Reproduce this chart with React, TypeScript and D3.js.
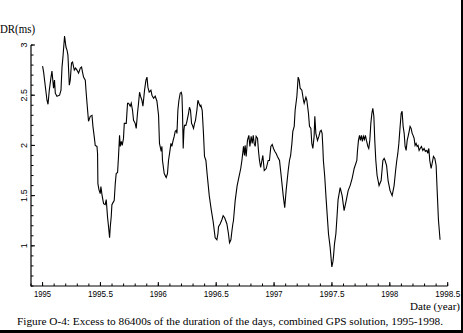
import React from "react";
import * as d3 from "d3";

const years: number[] = [
  1995.000, 1995.009, 1995.038, 1995.047, 1995.058, 1995.073, 1995.081, 1995.095, 1995.103, 1995.110,
  1995.124, 1995.147, 1995.159, 1995.168, 1995.176, 1995.190, 1995.202, 1995.211, 1995.219, 1995.231,
  1995.239, 1995.250, 1995.259, 1995.274, 1995.285, 1995.297, 1995.311, 1995.326, 1995.337, 1995.345,
  1995.354, 1995.369, 1995.377, 1995.389, 1995.397, 1995.412, 1995.427, 1995.435, 1995.446, 1995.455,
  1995.470, 1995.475, 1995.478, 1995.487, 1995.498, 1995.504, 1995.513, 1995.527, 1995.541, 1995.550,
  1995.561, 1995.570, 1995.579, 1995.585, 1995.593, 1995.599, 1995.613, 1995.619, 1995.628, 1995.636,
  1995.648, 1995.656, 1995.665, 1995.671, 1995.680, 1995.688, 1995.699, 1995.706, 1995.723, 1995.734,
  1995.743, 1995.757, 1995.766, 1995.777, 1995.786, 1995.800, 1995.809, 1995.820, 1995.829, 1995.838,
  1995.846, 1995.858, 1995.867, 1995.881, 1995.893, 1995.902, 1995.910, 1995.921, 1995.936, 1995.945,
  1995.959, 1995.973, 1995.988, 1996.002, 1996.010, 1996.025, 1996.031, 1996.036, 1996.051, 1996.068,
  1996.079, 1996.088, 1996.097, 1996.109, 1996.117, 1996.126, 1996.137, 1996.146, 1996.155, 1996.161,
  1996.169, 1996.178, 1996.189, 1996.198, 1996.204, 1996.209, 1996.215, 1996.221, 1996.226, 1996.238,
  1996.247, 1996.261, 1996.269, 1996.278, 1996.287, 1996.295, 1996.304, 1996.313, 1996.321, 1996.333,
  1996.342, 1996.351, 1996.362, 1996.368, 1996.379, 1996.390, 1996.399, 1996.411, 1996.422, 1996.440,
  1996.457, 1996.474, 1996.491, 1996.506, 1996.515, 1996.520, 1996.535, 1996.549, 1996.560, 1996.573,
  1996.592, 1996.606, 1996.615, 1996.627, 1996.636, 1996.644, 1996.649, 1996.664, 1996.681, 1996.699,
  1996.712, 1996.722, 1996.736, 1996.744, 1996.750, 1996.759, 1996.770, 1996.782, 1996.791, 1996.802,
  1996.811, 1996.820, 1996.828, 1996.837, 1996.845, 1996.857, 1996.865, 1996.874, 1996.884, 1996.903,
  1996.915, 1996.932, 1996.949, 1996.960, 1996.972, 1996.984, 1996.995, 1997.007, 1997.018, 1997.029,
  1997.047, 1997.061, 1997.079, 1997.092, 1997.104, 1997.122, 1997.133, 1997.143, 1997.154, 1997.162,
  1997.174, 1997.182, 1997.197, 1997.208, 1997.217, 1997.225, 1997.240, 1997.254, 1997.260, 1997.275,
  1997.283, 1997.297, 1997.306, 1997.318, 1997.326, 1997.335, 1997.346, 1997.352, 1997.361, 1997.375,
  1997.387, 1997.398, 1997.407, 1997.415, 1997.421, 1997.426, 1997.437, 1997.450, 1997.470, 1997.484,
  1997.499, 1997.508, 1997.513, 1997.522, 1997.534, 1997.542, 1997.553, 1997.571, 1997.588, 1997.605,
  1997.623, 1997.640, 1997.657, 1997.674, 1997.692, 1997.715, 1997.720, 1997.729, 1997.738, 1997.746,
  1997.755, 1997.763, 1997.772, 1997.781, 1997.789, 1997.798, 1997.810, 1997.818, 1997.827, 1997.836,
  1997.845, 1997.853, 1997.862, 1997.870, 1997.879, 1997.890, 1997.907, 1997.925, 1997.940, 1997.951,
  1997.959, 1997.972, 1997.985, 1998.002, 1998.020, 1998.037, 1998.050, 1998.060, 1998.069, 1998.078,
  1998.089, 1998.098, 1998.106, 1998.115, 1998.124, 1998.132, 1998.141, 1998.150, 1998.158, 1998.167,
  1998.175, 1998.184, 1998.193, 1998.201, 1998.210, 1998.218, 1998.227, 1998.236, 1998.244, 1998.253,
  1998.262, 1998.273, 1998.285, 1998.296, 1998.307, 1998.320, 1998.328, 1998.337, 1998.345, 1998.357,
  1998.377, 1998.389, 1998.400, 1998.409, 1998.420, 1998.434,
];

const excessMs: number[] = [
  2.79, 2.73, 2.45, 2.41, 2.55, 2.68, 2.74, 2.57, 2.65, 2.52,
  2.49, 2.50, 2.55, 2.78, 2.88, 3.09, 2.98, 2.95, 2.90, 2.60,
  2.65, 2.82, 2.83, 2.75, 2.77, 2.75, 2.72, 2.77, 2.78, 2.73,
  2.68, 2.65, 2.52, 2.35, 2.24, 2.29, 2.30, 2.19, 2.09, 2.00,
  1.99, 1.92, 1.62, 1.56, 1.52, 1.59, 1.51, 1.42, 1.41, 1.46,
  1.29, 1.19, 1.08, 1.19, 1.29, 1.41, 1.44, 1.45, 1.62, 1.72,
  1.73, 1.89, 2.10, 1.99, 2.04, 2.00, 2.07, 2.22, 2.22, 2.42,
  2.42, 2.39, 2.42, 2.35, 2.25, 2.22, 2.17, 2.32, 2.42, 2.53,
  2.49, 2.45, 2.39, 2.55, 2.65, 2.68, 2.58, 2.53, 2.55, 2.50,
  2.47, 2.49, 2.44, 2.30, 2.02, 1.94, 1.99, 1.85, 1.72, 1.68,
  1.72, 1.85, 1.92, 2.02, 1.99, 2.04, 2.09, 2.14, 2.15, 2.12,
  2.35, 2.45, 2.52, 2.53, 2.50, 2.32, 1.97, 2.15, 2.20, 2.20,
  2.24, 2.32, 2.38, 2.35, 2.22, 2.20, 2.17, 2.22, 2.25, 2.35,
  2.45, 2.42, 2.39, 2.40, 2.35, 2.12, 1.89, 1.85, 1.71, 1.50,
  1.36, 1.24, 1.08, 1.06, 1.12, 1.19, 1.22, 1.26, 1.30, 1.28,
  1.22, 1.12, 1.03, 1.06, 1.15, 1.22, 1.25, 1.45, 1.60, 1.70,
  1.77, 1.85, 1.99, 1.90, 2.00, 1.89, 2.05, 2.10, 1.99, 2.09,
  2.02, 2.10, 2.02, 1.99, 2.09, 2.07, 1.95, 1.85, 1.78, 1.90,
  1.75, 1.77, 1.85, 1.85, 1.99, 2.01, 1.97, 1.94, 1.92, 1.89,
  1.85, 1.70, 1.50, 1.38, 1.55, 1.75, 1.85, 1.90, 2.02, 2.14,
  2.19, 2.35, 2.49, 2.68, 2.65, 2.57, 2.55, 2.45, 2.42, 2.48,
  2.45, 2.32, 2.19, 2.17, 2.02, 1.97, 2.09, 2.29, 2.12, 2.05,
  2.09, 2.14, 2.15, 2.12, 1.99, 1.85, 1.70, 1.46, 1.12, 0.99,
  0.79, 0.84, 0.89, 1.02, 1.12, 1.26, 1.46, 1.58, 1.50, 1.35,
  1.45, 1.55, 1.60, 1.67, 1.77, 1.85, 1.94, 2.05, 2.10, 2.05,
  2.10, 2.04, 2.09, 2.06, 2.10, 2.05, 1.99, 1.97, 2.05, 2.22,
  2.32, 2.37, 2.29, 2.05, 1.85, 1.70, 1.60, 1.65, 1.85, 1.87,
  1.85, 1.80, 1.65, 1.55, 1.50, 1.60, 1.75, 1.85, 1.92, 2.02,
  2.19, 2.32, 2.34, 2.19, 2.12, 1.99, 1.95, 2.05, 2.09, 2.14,
  2.19, 2.17, 2.12, 2.10, 2.07, 2.00, 2.02, 1.99, 2.00, 1.95,
  1.97, 1.99, 1.95, 1.97, 1.94, 1.95, 1.92, 1.97, 1.85, 1.77,
  1.89, 1.87, 1.80, 1.55, 1.26, 1.06,
];

const xMajorTicks: number[] = [1995, 1995.5, 1996, 1996.5, 1997, 1997.5, 1998, 1998.5];
const xTickLabels: string[] = ["1995", "1995.5", "1996", "1996.5", "1997", "1997.5", "1998", "1998.5"];
const yMajorTicks: number[] = [1, 1.5, 2, 2.5, 3];
const yTickLabels: string[] = ["1", "1.5", "2", "2.5", "3"];

const W = 463;
const H = 333;

export default function App() {
  const x = d3.scaleLinear().domain([1994.9, 1998.5]).range([31, 447.7]);
  const y = d3.scaleLinear().domain([0.6, 3.0]).range([286, 45]);

  const pts: [number, number][] = years.map((t, i) => [t, excessMs[i]]);
  const line = d3
    .line<[number, number]>()
    .x((d) => x(d[0]))
    .y((d) => y(d[1]));

  const xMinor = d3.range(0, 37).map((i) => 1994.9 + i * 0.1);
  const yMinor = d3.range(0, 25).map((i) => 0.6 + i * 0.1);

  const x0 = x(1994.9);
  const y0 = y(0.6);
  const tickFont = "'Liberation Sans', Arial, sans-serif";
  const serif = "'Liberation Serif', 'Times New Roman', serif";

  return (
    <svg
      width={W}
      height={H}
      style={{ position: "absolute", left: 0, top: 0, background: "#fff" }}
    >
      <rect x={0} y={0} width={W} height={H} fill="#fff" />
      {/* frame shadow */}
      <rect x={461} y={0} width={2} height={H} fill="#000" />
      <rect x={0} y={330} width={W} height={3} fill="#000" />

      {/* axes */}
      <line x1={x0} y1={y(3)} x2={x0} y2={y0 + 0.5} stroke="#000" strokeWidth={1.2} />
      <line x1={x0} y1={y0} x2={x(1998.5)} y2={y0} stroke="#000" strokeWidth={1.2} />

      {yMinor.map((v, i) => (
        <line key={"ym" + i} x1={x0} x2={x0 + 2.5} y1={y(v)} y2={y(v)} stroke="#000" strokeWidth={1} />
      ))}
      {yMajorTicks.map((v, i) => (
        <line key={"yM" + i} x1={x0} x2={x0 + 4} y1={y(v)} y2={y(v)} stroke="#000" strokeWidth={1} />
      ))}
      {yMajorTicks.map((v, i) => (
        <text
          key={"yl" + i}
          transform={`translate(27,${y(v)}) rotate(-90)`}
          textAnchor="middle"
          fontFamily={tickFont}
          fontSize={9}
          fill="#000"
        >
          {yTickLabels[i]}
        </text>
      ))}

      {xMinor.map((v, i) => (
        <line key={"xm" + i} x1={x(v)} x2={x(v)} y1={y0} y2={y0 - 2.5} stroke="#000" strokeWidth={1} />
      ))}
      {xMajorTicks.map((v, i) => (
        <line key={"xM" + i} x1={x(v)} x2={x(v)} y1={y0} y2={y0 - 4} stroke="#000" strokeWidth={1} />
      ))}
      {xMajorTicks.map((v, i) => (
        <text
          key={"xl" + i}
          x={x(v)}
          y={297}
          textAnchor="middle"
          fontFamily={tickFont}
          fontSize={8.5}
          textLength={xTickLabels[i].length > 4 ? 25 : 17}
          lengthAdjust="spacingAndGlyphs"
          fill="#000"
        >
          {xTickLabels[i]}
        </text>
      ))}

      <path d={line(pts) || ""} fill="none" stroke="#000" strokeWidth={1.1} strokeLinejoin="miter" />

      <text x={0} y={33} fontFamily={serif} fontSize={11.5} textLength={35} lengthAdjust="spacingAndGlyphs" fill="#000">
        DR(ms)
      </text>
      <text x={410} y={309.5} fontFamily={serif} fontSize={10} textLength={50} lengthAdjust="spacingAndGlyphs" fill="#000">
        Date (year)
      </text>
      <text
        x={17}
        y={325}
        fontFamily={serif}
        fontSize={10.5}
        textLength={426}
        lengthAdjust="spacingAndGlyphs"
        fill="#000"
      >
        Figure O-4: Excess to 86400s of the duration of the days, combined GPS solution, 1995-1998.
      </text>
    </svg>
  );
}
